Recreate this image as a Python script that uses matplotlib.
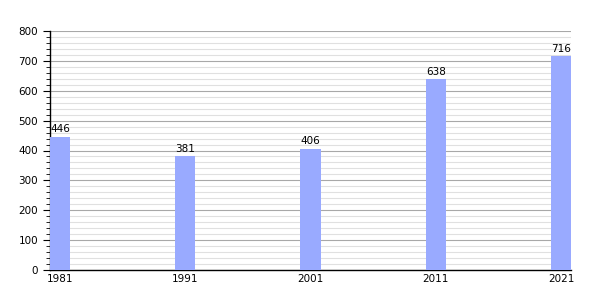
import numpy as np
import matplotlib.pyplot as plt
from matplotlib.ticker import MultipleLocator

years = [1981, 1991, 2001, 2011, 2021]
population = [446, 381, 406, 638, 716]

fig = plt.figure(figsize=(6, 3), dpi=100)
ax = fig.add_axes([50/600, 30/300, 521/600, 239/300])

ax.bar(years, population, width=1.6, color='#99aaff', zorder=3)
for x, v in zip(years, population):
    ax.text(x, v + 8, str(v), ha='center', va='bottom', fontsize=7.5, zorder=4)

ax.set_xlim(1980.2, 2021.8)
ax.set_ylim(0, 800)
ax.set_xticks(years)
ax.set_xticklabels([str(y) for y in years])
ax.yaxis.set_major_locator(MultipleLocator(100))
ax.yaxis.set_minor_locator(MultipleLocator(20))
ax.grid(axis='y', which='major', color='#a8a8a8', lw=0.8, zorder=0)
ax.grid(axis='y', which='minor', color='#e0e0e0', lw=0.8, zorder=0)
ax.tick_params(axis='x', length=0, labelsize=7.5, pad=3)
ax.tick_params(axis='y', which='major', length=5, labelsize=7.5, direction='out')
ax.tick_params(axis='y', which='minor', length=3, direction='out')
for s in ['top', 'right']:
    ax.spines[s].set_visible(False)
ax.spines['left'].set_linewidth(1)
ax.spines['bottom'].set_linewidth(1)

fig.savefig('out.png', dpi=100)
